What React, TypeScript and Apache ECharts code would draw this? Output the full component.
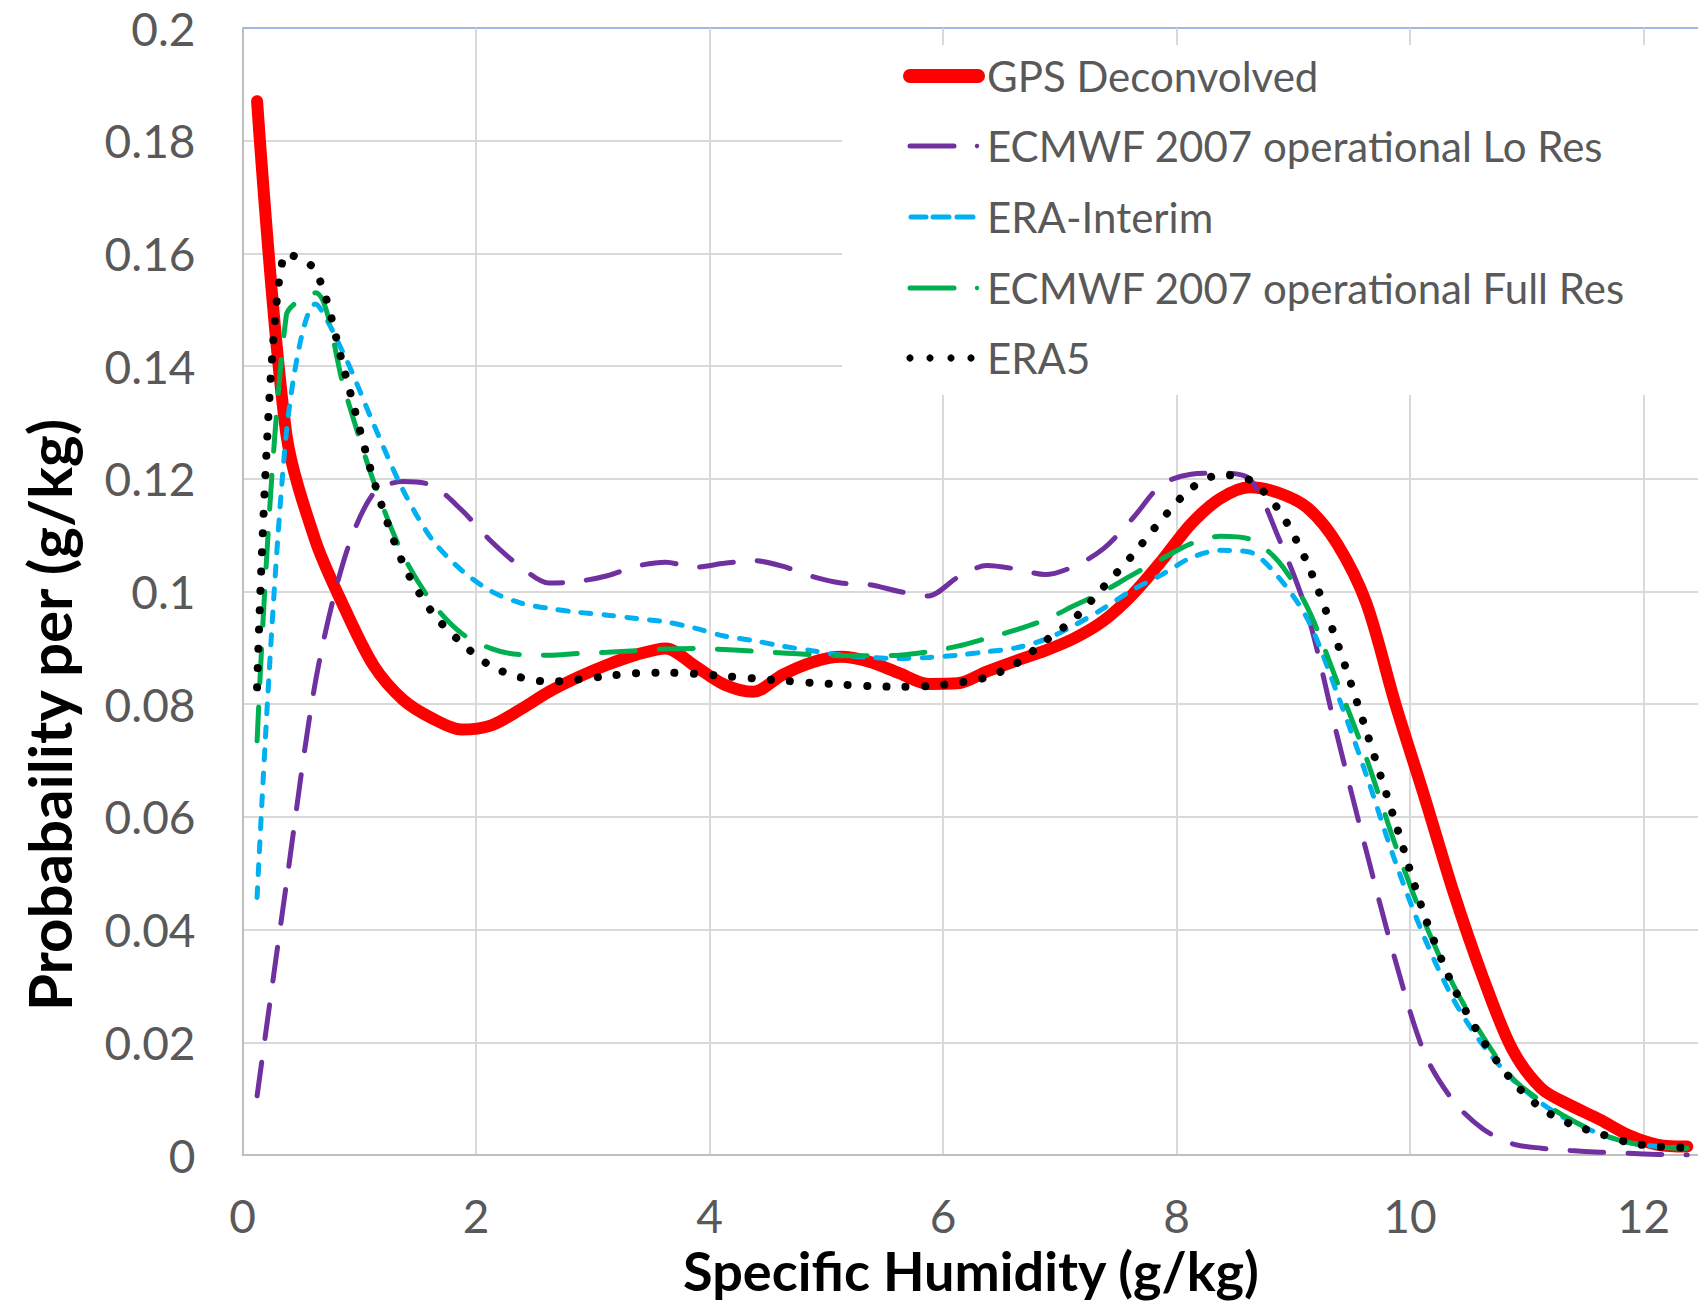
import React, { useEffect, useRef } from "react";
import * as echarts from "echarts";

// Bin centres of specific humidity (g/kg)
const xValues = [
  0.125, 0.375, 0.625, 0.875, 1.125, 1.375, 1.625, 1.875, 2.125, 2.375,
  2.625, 2.875, 3.125, 3.375, 3.625, 3.875, 4.125, 4.375, 4.625, 4.875,
  5.125, 5.375, 5.625, 5.875, 6.125, 6.375, 6.625, 6.875, 7.125, 7.375,
  7.625, 7.875, 8.125, 8.375, 8.625, 8.875, 9.125, 9.375, 9.625, 9.875,
  10.125, 10.375, 10.625, 10.875, 11.125, 11.375, 11.625, 11.875, 12.125, 12.375,
];

const gpsDeconvolved = [
  0.187, 0.128, 0.109, 0.097, 0.0868, 0.0808, 0.0775, 0.0755, 0.0762, 0.079,
  0.0822, 0.0848, 0.087, 0.0888, 0.0899, 0.0868, 0.0835, 0.0822, 0.0852, 0.0874,
  0.0884, 0.0875, 0.0855, 0.0836, 0.0837, 0.0858, 0.0877, 0.0895, 0.0917, 0.0948,
  0.0995, 0.1055, 0.112, 0.1165, 0.1185, 0.1175, 0.1148, 0.1085, 0.098, 0.08,
  0.0635, 0.0465, 0.0315, 0.0188, 0.0118, 0.0088, 0.0063, 0.0035, 0.0018, 0.0015,
];

const ecmwfLoRes = [
  0.0105, 0.048, 0.084, 0.106, 0.1175, 0.1195, 0.1188, 0.1145, 0.109, 0.1045,
  0.1015, 0.1018, 0.1028, 0.1045, 0.1052, 0.1043, 0.105, 0.1055, 0.1045, 0.1027,
  0.1015, 0.1012, 0.1, 0.0992, 0.1025, 0.1046, 0.104, 0.103, 0.1045, 0.1076,
  0.113, 0.119, 0.1208, 0.121, 0.12, 0.1095, 0.0958, 0.0745, 0.054, 0.0345,
  0.018, 0.0095, 0.0046, 0.002, 0.0012, 0.0008, 0.0005, 0.0003, 0.0001, 0,
];

const eraInterim = [
  0.0457, 0.128, 0.151, 0.1418, 0.1296, 0.118, 0.1092, 0.1038, 0.1001, 0.098,
  0.097, 0.0963, 0.0958, 0.0952, 0.0946, 0.0935, 0.0921, 0.0913, 0.0903, 0.0895,
  0.0887, 0.0883, 0.0881, 0.0883, 0.0887, 0.0893, 0.09, 0.0915, 0.094, 0.097,
  0.1003, 0.103, 0.106, 0.1073, 0.107, 0.1025, 0.095, 0.082, 0.0675, 0.052,
  0.0385, 0.0275, 0.0195, 0.0135, 0.0092, 0.006, 0.0038, 0.0022, 0.0015, 0.0012,
];

const ecmwfFullRes = [
  0.0735, 0.149, 0.153, 0.1357, 0.1194, 0.1065, 0.098, 0.0926, 0.0899, 0.0888,
  0.0887, 0.089, 0.0892, 0.0895, 0.0898, 0.0899, 0.0897, 0.0894, 0.0891, 0.0888,
  0.0886, 0.0886, 0.0887, 0.0893, 0.0903, 0.0917, 0.0932, 0.095, 0.0975, 0.1,
  0.103, 0.1058, 0.1085, 0.1098, 0.1093, 0.1053, 0.097, 0.084, 0.0705, 0.055,
  0.0413, 0.03, 0.021, 0.0137, 0.0095, 0.0063, 0.0038, 0.0022, 0.0014, 0.0012,
];

const era5 = [
  0.083, 0.16, 0.157, 0.139, 0.1197, 0.105, 0.0963, 0.0909, 0.0868, 0.0848,
  0.084, 0.0844, 0.085, 0.0855, 0.0856, 0.0854, 0.085, 0.0846, 0.0842, 0.0838,
  0.0835, 0.0832, 0.0831, 0.0832, 0.0838, 0.0848, 0.0872, 0.0912, 0.0952, 0.1008,
  0.1065, 0.1128, 0.1183, 0.1207, 0.1198, 0.1145, 0.1048, 0.091, 0.0753, 0.059,
  0.0425, 0.0297, 0.0203, 0.0132, 0.0083, 0.0055, 0.0038, 0.0022, 0.0015, 0.0013,
];

const seriesNames = [
  "GPS Deconvolved",
  "ECMWF 2007 operational Lo Res",
  "ERA-Interim",
  "ECMWF 2007 operational Full Res",
  "ERA5",
];

const seriesColors = ["#FF0000", "#7030A0", "#00B0F0", "#00B050", "#000000"];

const xTitle = "Specific Humidity (g/kg)";
const yTitle = "Probabaility per (g/kg)";

const FONT = "Lato";

function pairs(ys: number[]) {
  return xValues.map((x, i) => [x, ys[i]]);
}

// Hand-drawn legend (mimics the Excel legend keys)
function legendGraphics() {
  const rowY = [76, 146, 217, 288, 358];
  const x0 = 910;
  const x1 = 978;
  const textX = 987;
  const els: any[] = [
    {
      type: "rect",
      shape: { x: 842, y: 45, width: 1000, height: 350 },
      style: { fill: "#ffffff" },
      z: 100,
    },
  ];
  // GPS: thick solid
  els.push({
    type: "line",
    shape: { x1: x0, y1: rowY[0], x2: x1, y2: rowY[0] },
    style: { stroke: seriesColors[0], lineWidth: 14, lineCap: "round" },
    z: 101,
  });
  // Lo Res & Full Res: long dash + dot
  [1, 3].forEach((k) => {
    els.push({
      type: "line",
      shape: { x1: x0, y1: rowY[k], x2: 954, y2: rowY[k] },
      style: { stroke: seriesColors[k], lineWidth: 5, lineCap: "round" },
      z: 101,
    });
    els.push({
      type: "circle",
      shape: { cx: 977, cy: rowY[k], r: 2.2 },
      style: { fill: seriesColors[k] },
      z: 101,
    });
  });
  // ERA-Interim: three short dashes
  [[911, 926], [933, 949], [957, 973]].forEach(([a, b]) => {
    els.push({
      type: "line",
      shape: { x1: a, y1: rowY[2], x2: b, y2: rowY[2] },
      style: { stroke: seriesColors[2], lineWidth: 5, lineCap: "round" },
      z: 101,
    });
  });
  // ERA5: round dots
  [910, 930, 951, 971].forEach((cx) => {
    els.push({
      type: "circle",
      shape: { cx, cy: rowY[4], r: 3.6 },
      style: { fill: seriesColors[4] },
      z: 101,
    });
  });
  seriesNames.forEach((name, i) => {
    els.push({
      type: "text",
      x: textX,
      y: rowY[i],
      style: {
        text: name,
        fontFamily: FONT,
        fontSize: 42,
        lineHeight: 44,
        fill: "#595959",
        align: "left",
        verticalAlign: "middle",
      },
      z: 101,
    });
  });
  return els;
}

export default function App() {
  const ref = useRef<HTMLDivElement>(null);

  useEffect(() => {
    if (!ref.current) return;
    const chart = echarts.init(ref.current, null, { renderer: "svg" });

    const yGridColors = [
      "#D9D9D9", "#D9D9D9", "#D9D9D9", "#D9D9D9", "#D9D9D9", "#D9D9D9",
      "#D9D9D9", "#D9D9D9", "#D9D9D9", "#D9D9D9", "#9DB9E3",
    ];

    const option: any = {
      animation: false,
      backgroundColor: "#ffffff",
      grid: { left: 242.5, right: 23, top: 28, bottom: 149, containLabel: false },
      xAxis: {
        type: "value",
        min: 0,
        max: 14,
        interval: 2,
        axisLine: { show: true, lineStyle: { color: "#BFBFBF", width: 2 } },
        axisTick: { show: false },
        splitLine: { show: true, lineStyle: { color: "#D9D9D9", width: 2 } },
        axisLabel: {
          fontFamily: FONT,
          fontSize: 46,
          lineHeight: 46,
          color: "#595959",
          margin: 37,
          showMaxLabel: false,
        },
      },
      yAxis: {
        type: "value",
        min: 0,
        max: 0.2,
        interval: 0.02,
        axisLine: { show: true, lineStyle: { color: "#BFBFBF", width: 2 } },
        axisTick: { show: false },
        splitLine: { show: true, lineStyle: { color: yGridColors, width: 2 } },
        axisLabel: {
          fontFamily: FONT,
          fontSize: 46,
          lineHeight: 46,
          color: "#595959",
          margin: 47,
          formatter: (v: number) => String(parseFloat(v.toFixed(2))),
        },
      },
      graphic: [
        ...legendGraphics(),
        {
          type: "text",
          x: 971,
          y: 1270,
          style: {
            text: xTitle,
            fontFamily: FONT,
            fontWeight: "bold",
            fontSize: 54,
            lineHeight: 52,
            fill: "#000000",
            align: "center",
            verticalAlign: "middle",
          },
        },
        {
          type: "text",
          x: 49,
          y: 715,
          rotation: Math.PI / 2,
          style: {
            text: yTitle,
            fontFamily: FONT,
            fontWeight: "bold",
            fontSize: 60,
            lineHeight: 60,
            fill: "#000000",
            align: "center",
            verticalAlign: "middle",
          },
        },
      ],
      series: [
        {
          name: seriesNames[0],
          type: "line",
          smooth: 0.3,
          symbol: "none",
          data: pairs(gpsDeconvolved),
          lineStyle: { color: seriesColors[0], width: 12, cap: "round", join: "round" },
          itemStyle: { color: seriesColors[0] },
        },
        {
          name: seriesNames[1],
          type: "line",
          smooth: 0.3,
          symbol: "none",
          data: pairs(ecmwfLoRes),
          lineStyle: { color: seriesColors[1], width: 5, type: [34, 24], cap: "round" },
          itemStyle: { color: seriesColors[1] },
        },
        {
          name: seriesNames[2],
          type: "line",
          smooth: 0.3,
          symbol: "none",
          data: pairs(eraInterim),
          lineStyle: { color: seriesColors[2], width: 5, type: [10, 13], cap: "round" },
          itemStyle: { color: seriesColors[2] },
        },
        {
          name: seriesNames[3],
          type: "line",
          smooth: 0.3,
          symbol: "none",
          data: pairs(ecmwfFullRes),
          lineStyle: { color: seriesColors[3], width: 5, type: [34, 24], cap: "round" },
          itemStyle: { color: seriesColors[3] },
        },
        {
          name: seriesNames[4],
          type: "line",
          smooth: 0.3,
          symbol: "none",
          data: pairs(era5),
          lineStyle: { color: seriesColors[4], width: 8, type: [0.1, 19.2], cap: "round" },
          itemStyle: { color: seriesColors[4] },
        },
      ],
    };

    chart.setOption(option);
    return () => chart.dispose();
  }, []);

  return (
    <div
      style={{
        position: "absolute",
        left: 0,
        top: 0,
        width: 1698,
        height: 1304,
        overflow: "hidden",
        background: "#ffffff",
      }}
    >
      <div ref={ref} style={{ width: 1900, height: 1304 }} />
    </div>
  );
}
